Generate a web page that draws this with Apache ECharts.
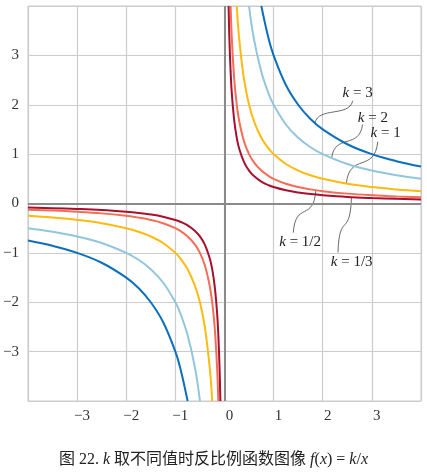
<!DOCTYPE html>
<html>
<head>
<meta charset="utf-8">
<script src="https://cdn.jsdelivr.net/npm/echarts@6/dist/echarts.min.js"></script>
<style>
  html, body { margin: 0; padding: 0; background: #fff; }
  #main { width: 427px; height: 473px; }
</style>
</head>
<body>
<div id="main"></div>
<script>
  // x 取样点（正、负两支）
  var xPos = [0.0833, 0.1, 0.125, 0.15, 0.2, 0.25, 0.3, 0.4, 0.5, 0.6, 0.75, 0.9, 1, 1.25, 1.5, 1.75, 2, 2.5, 3, 3.5, 4];
  var xNeg = [-4, -3.5, -3, -2.5, -2, -1.75, -1.5, -1.25, -1, -0.9, -0.75, -0.6, -0.5, -0.4, -0.3, -0.25, -0.2, -0.15, -0.125, -0.1, -0.0833];

  // y 值
  var k3Pos = [null, null, null, null, null, null, null, null, null, null, 4, 3.33, 3, 2.4, 2, 1.71, 1.5, 1.2, 1, 0.857, 0.75];
  var k2Pos = [null, null, null, null, null, null, null, null, 4, 3.33, 2.67, 2.22, 2, 1.6, 1.33, 1.14, 1, 0.8, 0.667, 0.571, 0.5];
  var k1Pos = [null, null, null, null, null, 4, 3.33, 2.5, 2, 1.67, 1.33, 1.11, 1, 0.8, 0.667, 0.571, 0.5, 0.4, 0.333, 0.286, 0.25];
  var kHalfPos = [null, null, 4, 3.33, 2.5, 2, 1.67, 1.25, 1, 0.833, 0.667, 0.556, 0.5, 0.4, 0.333, 0.286, 0.25, 0.2, 0.167, 0.143, 0.125];
  var kThirdPos = [4, 3.33, 2.67, 2.22, 1.67, 1.33, 1.11, 0.833, 0.667, 0.556, 0.444, 0.37, 0.333, 0.267, 0.222, 0.19, 0.167, 0.133, 0.111, 0.095, 0.0833];

  var k3Neg = [-0.75, -0.857, -1, -1.2, -1.5, -1.71, -2, -2.4, -3, -3.33, -4, null, null, null, null, null, null, null, null, null, null];
  var k2Neg = [-0.5, -0.571, -0.667, -0.8, -1, -1.14, -1.33, -1.6, -2, -2.22, -2.67, -3.33, -4, null, null, null, null, null, null, null, null];
  var k1Neg = [-0.25, -0.286, -0.333, -0.4, -0.5, -0.571, -0.667, -0.8, -1, -1.11, -1.33, -1.67, -2, -2.5, -3.33, -4, null, null, null, null, null];
  var kHalfNeg = [-0.125, -0.143, -0.167, -0.2, -0.25, -0.286, -0.333, -0.4, -0.5, -0.556, -0.667, -0.833, -1, -1.25, -1.67, -2, -2.5, -3.33, -4, null, null];
  var kThirdNeg = [-0.0833, -0.095, -0.111, -0.133, -0.167, -0.19, -0.222, -0.267, -0.333, -0.37, -0.444, -0.556, -0.667, -0.833, -1.11, -1.33, -1.67, -2.22, -2.67, -3.33, -4];

  var kNames = ['k = 3', 'k = 2', 'k = 1', 'k = 1/2', 'k = 1/3'];
  var kColors = ['#0a6fbd', '#92c5de', '#fdbb12', '#f46d55', '#a8102e'];
  var posData = [k3Pos, k2Pos, k1Pos, kHalfPos, kThirdPos];
  var negData = [k3Neg, k2Neg, k1Neg, kHalfNeg, kThirdNeg];

  // 标注：曲线上的点、引线终点、文字中心（数据坐标）
  var labelText = ['3', '2', '1', '1/2', '1/3'];
  var anchorPts = [[1.84, 1.63], [2.18, 0.917], [2.48, 0.403], [1.86, 0.269], [2.585, 0.129]];
  var leaderEnds = [[2.61, 2.08], [2.81, 1.6], [3.12, 1.25], [1.4, -0.59], [2.31, -0.99]];
  var textPts = [[2.71, 2.24], [3.02, 1.74], [3.28, 1.43], [1.54, -0.79], [2.59, -1.19]];

  var serif = '"Liberation Serif", "Times New Roman", serif';

  function pairs(xs, ys) {
    var out = [];
    for (var i = 0; i < xs.length; i++) {
      if (ys[i] !== null) out.push([xs[i], ys[i]]);
    }
    return out;
  }

  var series = [];
  for (var i = 0; i < kNames.length; i++) {
    [negData[i], posData[i]].forEach(function (ys, j) {
      series.push({
        name: kNames[i],
        type: 'line',
        data: pairs(j === 0 ? xNeg : xPos, ys),
        smooth: 0.4,
        showSymbol: false,
        silent: true,
        lineStyle: { color: kColors[i], width: 2 }
      });
    });
  }
  // 坐标轴零线
  series[0].markLine = {
    silent: true,
    symbol: ['none', 'none'],
    label: { show: false },
    lineStyle: { color: '#8a8a8a', width: 2, type: 'solid' },
    data: [{ xAxis: 0 }, { yAxis: 0 }]
  };
  series[0].z = 1;

  var chart = echarts.init(document.getElementById('main'));
  chart.setOption({
    animation: false,
    title: {
      text: '图 22. {i|k} 取不同值时反比例函数图像 {i|f}({i|x}) = {i|k}/{i|x}',
      left: 'center',
      top: 447,
      textStyle: {
        fontFamily: serif + ', "Noto Sans CJK SC"',
        fontSize: 16,
        fontWeight: 'normal',
        color: '#222',
        rich: {
          i: { fontFamily: serif, fontStyle: 'italic', fontSize: 16, color: '#222' }
        }
      }
    },
    grid: {
      left: 26, right: 6, top: 6, bottom: 72,
      show: true, borderColor: '#cccccc', borderWidth: 1
    },
    xAxis: {
      type: 'value', min: -4, max: 4, interval: 1,
      axisLine: { show: false },
      axisTick: { show: false },
      splitLine: { lineStyle: { color: '#cccccc', width: 1.2 } },
      axisLabel: {
        showMinLabel: false, showMaxLabel: false,
        margin: 8,
        padding: [0, 0, 0, 10],
        fontFamily: serif, fontSize: 15, color: '#333',
        formatter: function (v) { return String(v).replace('-', '\u2212'); }
      }
    },
    yAxis: {
      type: 'value', min: -4, max: 4, interval: 1,
      axisLine: { show: false },
      axisTick: { show: false },
      splitLine: { lineStyle: { color: '#cccccc', width: 1.2 } },
      axisLabel: {
        showMinLabel: false, showMaxLabel: false,
        margin: 9,
        padding: [6, 0, 0, 0],
        fontFamily: serif, fontSize: 15, color: '#333',
        formatter: function (v) { return String(v).replace('-', '\u2212'); }
      }
    },
    series: series
  });

  // 引线和文字
  var graphics = [];
  for (var n = 0; n < labelText.length; n++) {
    var a = chart.convertToPixel({ gridIndex: 0 }, anchorPts[n]);
    var b = chart.convertToPixel({ gridIndex: 0 }, leaderEnds[n]);
    var t = chart.convertToPixel({ gridIndex: 0 }, textPts[n]);
    var dx = b[0] - a[0], dy = b[1] - a[1];
    graphics.push({
      type: 'bezierCurve',
      silent: true,
      shape: {
        x1: a[0], y1: a[1],
        cpx1: a[0] + dx * 0.1, cpy1: a[1] + dy * 0.75,
        cpx2: b[0] - dx * 0.1, cpy2: b[1] - dy * 0.75,
        x2: b[0], y2: b[1]
      },
      style: { stroke: '#444', lineWidth: 0.8, fill: null }
    });
    graphics.push({
      type: 'text',
      silent: true,
      x: t[0], y: t[1],
      style: {
        text: '{i|k} = ' + labelText[n],
        align: 'center', verticalAlign: 'middle',
        fontFamily: serif, fontSize: 15, fill: '#222',
        rich: { i: { fontFamily: serif, fontStyle: 'italic', fontSize: 15, fill: '#222' } }
      }
    });
  }
  chart.setOption({ graphic: graphics });
</script>
</body>
</html>
